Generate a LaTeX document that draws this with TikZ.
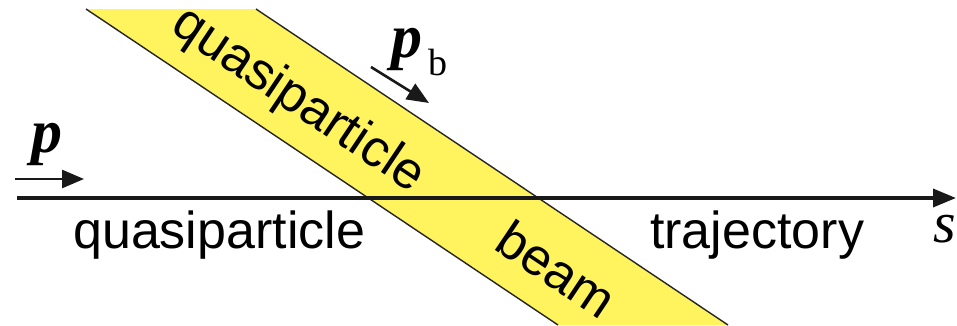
\documentclass[tikz,border=0pt]{standalone}
\usepackage{fontspec}
\setmainfont{Liberation Sans}
\newfontfamily\serifmath{Liberation Serif}
\usetikzlibrary{arrows.meta}
\definecolor{beamyellow}{RGB}{255,243,94}
\tikzset{
  lbl/.style={inner sep=0pt, font=\fontsize{52}{60}\selectfont},
  edge/.style={line width=1.4pt, black!85},
  axis/.style={line width=3.5pt, black!90, -{Triangle[length=23pt,width=18pt]}},
  mom/.style={line width=2.6pt, black!90, -{Triangle[length=22pt,width=18pt]}},
  mathlbl/.style={inner sep=0pt, font=\serifmath\fontsize{62}{66}\selectfont}
}
\begin{document}
\begin{tikzpicture}[x=1pt,y=-1pt]
\useasboundingbox (0,0) rectangle (957,325);
% band
\coordinate (b1) at (86,9);
\coordinate (b2) at (256,9);
\coordinate (b3) at (728,325);
\coordinate (b4) at (558,325);
\fill[beamyellow] (b1) -- (b2) -- (b3) -- (b4) -- cycle;
\draw[edge] (b1) -- (b4);
\draw[edge] (b2) -- (b3);
% axis
\coordinate (a0) at (17,198);
\coordinate (a1) at (956,198);
\draw[axis] (a0) -- (a1);
% momentum arrows
\coordinate (p0) at (15,179);
\coordinate (p1) at (84,179);
\draw[mom] (p0) -- (p1);
\coordinate (pb0) at (371,67);
\coordinate (pb1) at (429,103);
\draw[mom] (pb0) -- (pb1);
% labels
\node[mathlbl, anchor=base west] (plbl) at (31,152) {\bfseries\itshape p};
\node[mathlbl, anchor=base west] (pblbl) at (391,57) {\bfseries\itshape p};
\node[inner sep=0pt, anchor=base west, font=\serifmath\fontsize{38}{40}\selectfont] (blbl) at (428,75) {b};
\node[mathlbl, anchor=base west, font=\serifmath\fontsize{58}{60}\selectfont] (slbl) at (933,242) {\itshape s};
\node[lbl, anchor=base west] (qlbl) at (73,248) {quasiparticle};
\node[lbl, anchor=base west] (tlbl) at (650,248) {trajectory};
\node[lbl, rotate=-33.8] (qblbl) at (298,101) {quasiparticle};
\node[lbl, rotate=-33.8] (beamlbl) at (557,269) {beam};
\end{tikzpicture}
\end{document}
